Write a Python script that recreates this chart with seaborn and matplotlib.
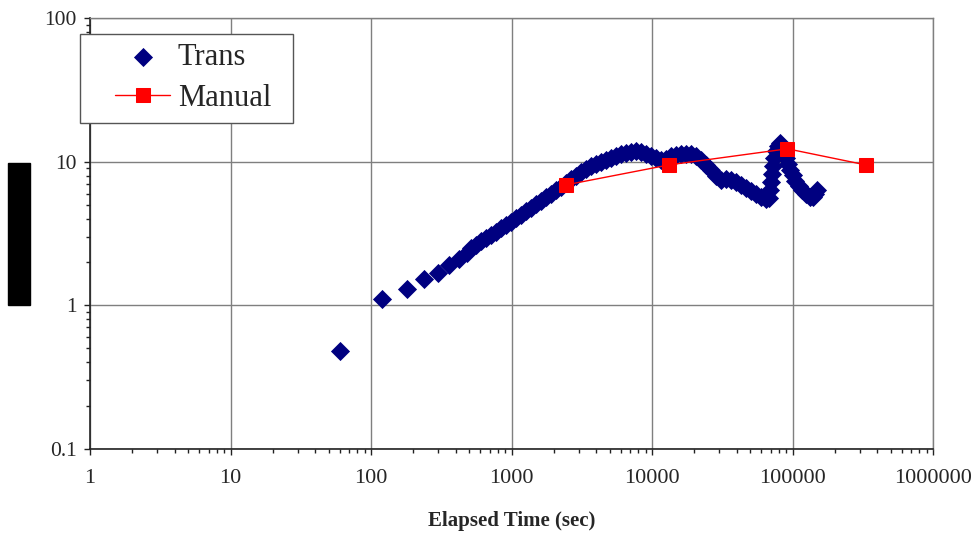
import matplotlib
matplotlib.use("Agg")
import matplotlib.pyplot as plt
import matplotlib.ticker as mticker
from matplotlib.patches import Rectangle
import seaborn as sns
import pandas as pd

# ---- data ----
trans_time = [60, 120, 180, 240, 300, 360, 420, 480,
              513, 557, 605, 657, 713, 774, 840, 912, 990, 1075,
              1167, 1267, 1375, 1493, 1621, 1760, 1910, 2074, 2251, 2443,
              2653, 2880, 3126, 3394, 3684, 3999, 4342, 4713, 5117, 5555,
              6030, 6546, 7106, 7715, 8375, 9093, 9870, 10715, 11630, 12630,
              13710, 14880, 16160, 17540, 19040, 20670, 22440, 24360, 26440, 28710,
              31170, 33830, 36730, 39870, 43280, 46980, 51000, 55360, 60100, 65240,
              68530, 69660, 70820, 71990, 73180, 74390, 76870, 79450, 82100, 84840,
              87670, 90600, 93620, 96760, 100000, 105000, 110400, 115900, 123800, 132200,
              138900, 143600, 148400]
trans_val = [0.48, 1.10, 1.30, 1.52, 1.68, 1.91, 2.10, 2.30,
             2.50, 2.63, 2.80, 2.94, 3.09, 3.24, 3.45, 3.62, 3.80, 4.05,
             4.25, 4.53, 4.76, 5.07, 5.32, 5.68, 5.96, 6.35, 6.66, 7.11,
             7.58, 7.95, 8.48, 8.90, 9.33, 9.64, 9.95, 10.28, 10.61, 10.96,
             11.31, 11.50, 11.68, 11.87, 11.68, 11.31, 10.96, 10.61, 10.28, 10.44,
             10.96, 11.13, 11.31, 11.31, 11.31, 10.96, 10.28, 9.48, 8.76, 7.95,
             7.46, 7.58, 7.46, 7.22, 6.88, 6.56, 6.25, 5.96, 5.68, 5.50,
             5.59, 6.35, 7.22, 8.21, 9.33, 10.61, 11.87, 12.86, 13.50, 12.86,
             11.68, 10.61, 9.64, 8.76, 8.08, 7.34, 6.77, 6.35, 5.96, 5.68,
             5.68, 5.96, 6.35]

manual_time = [2460, 13200, 92000, 332000]
manual_val = [6.9, 9.5, 12.3, 9.5]

x_ticks = [1, 10, 100, 1000, 10000, 100000, 1000000]
x_tick_labels = ["1", "10", "100", "1000", "10000", "100000", "1000000"]
y_ticks = [0.1, 1, 10, 100]
y_tick_labels = ["0.1", "1", "10", "100"]

x_label = "Elapsed Time (sec)"
y_label = "Transmissivity"

trans_df = pd.DataFrame({"time": trans_time, "value": trans_val})
manual_df = pd.DataFrame({"time": manual_time, "value": manual_val})

# ---- figure ----
sns.set_style("white")
plt.rcParams["font.family"] = ["Liberation Serif", "DejaVu Serif"]

W, H = 974, 536
fig = plt.figure(figsize=(W / 100, H / 100), dpi=100)
ax = fig.add_axes([90 / W, 1 - 448.7 / H, 843 / W, 430.5 / H])

ax.set_xscale("log")
ax.set_yscale("log")
ax.set_xlim(1, 1e6)
ax.set_ylim(0.1, 100)

ax.grid(True, which="major", color="#7f7f7f", linewidth=1.0)
ax.set_axisbelow(True)

sns.scatterplot(data=trans_df, x="time", y="value", ax=ax, marker="D",
                s=95, color="#000080", edgecolor="#000080", linewidth=0,
                label="Trans", zorder=3)
sns.lineplot(data=manual_df, x="time", y="value", ax=ax, color="#ff0000",
             linewidth=1.0, marker="s", markersize=10, markeredgecolor="#ff0000",
             label="Manual", zorder=4, estimator=None, sort=False)

ax.xaxis.set_major_locator(mticker.FixedLocator(x_ticks))
ax.xaxis.set_major_formatter(mticker.FixedFormatter(x_tick_labels))
ax.yaxis.set_major_locator(mticker.FixedLocator(y_ticks))
ax.yaxis.set_major_formatter(mticker.FixedFormatter(y_tick_labels))
ax.xaxis.set_minor_locator(mticker.LogLocator(base=10, subs=range(2, 10), numticks=20))
ax.yaxis.set_minor_locator(mticker.LogLocator(base=10, subs=range(2, 10), numticks=20))
ax.xaxis.set_minor_formatter(mticker.NullFormatter())
ax.yaxis.set_minor_formatter(mticker.NullFormatter())

ax.tick_params(axis="both", which="major", direction="out", length=4.5, width=1,
               color="#222222")
ax.tick_params(axis="both", which="minor", direction="out", length=3, width=1,
               color="#222222")
ax.tick_params(axis="x", which="major", labelsize=16, pad=10)
ax.tick_params(axis="y", which="major", labelsize=15.5, pad=5)
ax.tick_params(axis="x", which="both", bottom=True, top=False)
ax.tick_params(axis="y", which="both", left=True, right=False)

for side in ["left", "bottom"]:
    ax.spines[side].set_color("#222222")
    ax.spines[side].set_linewidth(1.2)
for side in ["top", "right"]:
    ax.spines[side].set_color("#7f7f7f")
    ax.spines[side].set_linewidth(1.0)

ax.set_xlabel(x_label, fontsize=15, fontweight="bold", labelpad=17)
ax.set_ylabel("")

# redacted y-axis label: black block with the label text inside
fig.patches.append(Rectangle((8 / W, 1 - 305 / H), 22 / W, 142 / H,
                             transform=fig.transFigure, facecolor="black",
                             edgecolor="black", zorder=5))
fig.text(19 / W, 1 - 234 / H, y_label, rotation=90, color="black",
         fontsize=12, ha="center", va="center", zorder=6)

# legend frame drawn explicitly, legend content placed inside it
frame = Rectangle((80 / W, 1 - 123 / H), 213 / W, 89 / H,
                  transform=fig.transFigure, facecolor="white",
                  edgecolor="#555555", linewidth=1.0, zorder=9, clip_on=False)
ax.add_patch(frame)
leg = ax.legend(loc="upper left", bbox_to_anchor=(115 / W, 1 - 43 / H),
                bbox_transform=fig.transFigure, borderaxespad=0, borderpad=0,
                fontsize=22, frameon=False, handlelength=1.8,
                handletextpad=0.26, labelspacing=0.39)
leg.set_zorder(10)

fig.savefig("out.png", dpi=100)
